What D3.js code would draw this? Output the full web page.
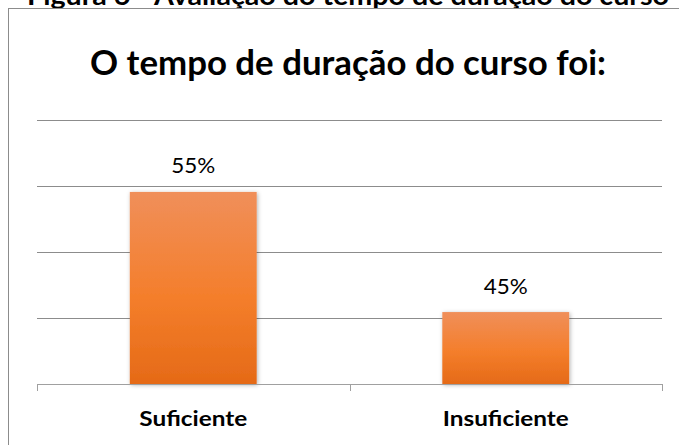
<!DOCTYPE html>
<html>
<head>
<meta charset="utf-8">
<script src="https://cdn.jsdelivr.net/npm/d3@7"></script>
<style>
  body { margin: 0; background: #fff; }
  svg { display: block; font-family: Lato, "Open Sans", sans-serif; }
</style>
</head>
<body>
<div id="chart"></div>
<script>
// Data
var categories = ["Suficiente", "Insuficiente"];
var values = [54.55, 45.45];
var valueLabels = ["55%", "45%"];
var gridTicks = [40, 45, 50, 55, 60];

var svgWidth = 679;
var svgHeight = 445;
var plot = { left: 37, right: 662, top: 120, bottom: 384 };

var svg = d3.select("#chart")
    .append("svg")
    .attr("width", svgWidth)
    .attr("height", svgHeight);

// gradient for the bars
var defs = svg.append("defs");
var grad = defs.append("linearGradient")
    .attr("id", "barFill")
    .attr("x1", 0).attr("y1", 0).attr("x2", 0).attr("y2", 1);
grad.append("stop").attr("offset", "0%").attr("stop-color", "#F08F5A");
grad.append("stop").attr("offset", "55%").attr("stop-color", "#F47E2B");
grad.append("stop").attr("offset", "100%").attr("stop-color", "#E56A17");
var shadow = defs.append("filter").attr("id", "shadow")
    .attr("x", "-20%").attr("y", "-20%").attr("width", "140%").attr("height", "140%");
shadow.append("feDropShadow")
    .attr("dx", 1).attr("dy", 1).attr("stdDeviation", 2)
    .attr("flood-color", "#000").attr("flood-opacity", 0.3);

// caption above the box (cut off at the top)
svg.append("text")
    .attr("x", 27)
    .attr("y", 5)
    .attr("textLength", 642)
    .attr("lengthAdjust", "spacingAndGlyphs")
    .style("font-size", "27px")
    .style("font-weight", "bold")
    .text("Figura 6 - Avaliação do tempo de duração do curso");

// chart box
svg.append("rect")
    .attr("x", 8.5)
    .attr("y", 8.5)
    .attr("width", 700)
    .attr("height", 500)
    .attr("fill", "#fff")
    .attr("stroke", "#8c8c8c")
    .attr("stroke-width", 1);

// title
svg.append("text")
    .attr("x", 90)
    .attr("y", 75)
    .attr("textLength", 516)
    .attr("lengthAdjust", "spacingAndGlyphs")
    .style("font-size", "35px")
    .style("font-weight", "bold")
    .text("O tempo de duração do curso foi:");

var x = d3.scaleBand()
    .domain(categories)
    .range([plot.left, plot.right])
    .paddingInner(0.594)
    .paddingOuter(0.297);

var y = d3.scaleLinear()
    .domain([40, 60])
    .range([plot.bottom, plot.top]);

// gridlines
svg.append("g")
    .attr("transform", `translate(${plot.left}, 0)`)
    .call(d3.axisLeft(y).tickValues(gridTicks.slice(1))
        .tickSize(-(plot.right - plot.left)).tickFormat(""))
    .call(g => g.select(".domain").remove())
    .call(g => g.selectAll("line").attr("stroke", "#8c8c8c"));

// bars
svg.selectAll("rect.bar")
    .data(values)
    .enter()
    .append("rect")
    .attr("class", "bar")
    .attr("x", (d, i) => x(categories[i]))
    .attr("y", d => y(d))
    .attr("width", x.bandwidth())
    .attr("height", d => y(40) - y(d))
    .attr("fill", "url(#barFill)")
    .attr("filter", "url(#shadow)");

// baseline with ticks at band edges
var edges = d3.range(categories.length + 1).map(i => plot.left + i * x.step());
svg.append("line")
    .attr("x1", plot.left).attr("x2", plot.right + 1)
    .attr("y1", y(40) + 0.5).attr("y2", y(40) + 0.5)
    .attr("stroke", "#a0a0a0");
svg.selectAll("line.tick-edge")
    .data(edges)
    .enter()
    .append("line")
    .attr("class", "tick-edge")
    .attr("x1", d => Math.round(d) + 0.5).attr("x2", d => Math.round(d) + 0.5)
    .attr("y1", y(40)).attr("y2", y(40) + 7)
    .attr("stroke", "#a0a0a0");

// value labels
svg.selectAll("text.value")
    .data(values)
    .enter()
    .append("text")
    .attr("class", "value")
    .attr("x", (d, i) => x(categories[i]) + x.bandwidth() / 2)
    .attr("y", d => y(d) - 18.5)
    .attr("text-anchor", "middle")
    .attr("textLength", 44)
    .attr("lengthAdjust", "spacingAndGlyphs")
    .style("font-size", "22px")
    .text((d, i) => valueLabels[i]);

// category labels
var catWidths = [108, 126];
svg.selectAll("text.cat")
    .data(categories)
    .enter()
    .append("text")
    .attr("class", "cat")
    .attr("x", d => x(d) + x.bandwidth() / 2)
    .attr("y", 426)
    .attr("text-anchor", "middle")
    .attr("textLength", (d, i) => catWidths[i])
    .attr("lengthAdjust", "spacingAndGlyphs")
    .style("font-size", "21px")
    .style("font-weight", "bold")
    .text(d => d);
</script>
</body>
</html>
